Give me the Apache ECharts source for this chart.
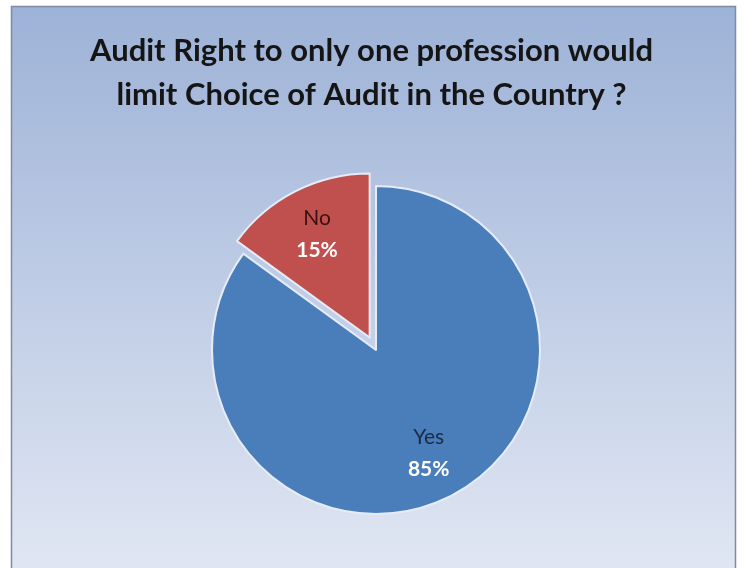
<!DOCTYPE html>
<html>
<head>
<meta charset="utf-8">
<script src="https://cdn.jsdelivr.net/npm/echarts@6/dist/echarts.min.js"></script>
<style>
html,body{margin:0;padding:0;background:#fff;}
#chart{width:743px;height:568px;}
</style>
</head>
<body>
<div id="chart"></div>
<script>
const titleLines = ['Audit Right to only one profession would', 'limit Choice of Audit in the Country ?'];
const categories = ['Yes', 'No'];
const values = [85, 15];
const sliceColors = ['#4a7ebb', '#c0504d'];

const chart = echarts.init(document.getElementById('chart'));
const nameColors = ['#1c2a44', '#3a1010'];

const pieBase = {
  type: 'pie',
  center: [376, 350],
  startAngle: 90,
  clockwise: true,
  selectedMode: 'single',
  selectedOffset: 14,
  emphasis: { disabled: true },
  labelLine: { show: false }
};

const sliceData = categories.map((c, i) => ({
  name: c, value: values[i], selected: i === 1,
  itemStyle: { color: sliceColors[i] }
}));

const labelData = categories.map((c, i) => ({
  name: c, value: values[i], selected: i === 1,
  label: {
    rich: {
      n: { fontSize: 21, color: nameColors[i], fontFamily: 'Lato', lineHeight: 32, align: 'center' },
      p: { fontSize: 21, fontWeight: 'bold', color: '#ffffff', fontFamily: 'Lato', lineHeight: 32, align: 'center' }
    }
  }
}));

chart.setOption({
  backgroundColor: '#ffffff',
  animation: false,
  graphic: [{
    type: 'rect',
    z: -10,
    shape: { x: 11.5, y: 6.5, width: 724, height: 570 },
    style: {
      fill: new echarts.graphic.LinearGradient(0, 0, 0, 1, [
        { offset: 0, color: '#9db2d7' },
        { offset: 0.45, color: '#bccae4' },
        { offset: 1, color: '#e1e7f3' }
      ]),
      stroke: '#7d8ca3',
      lineWidth: 1.5
    }
  }],
  title: {
    text: titleLines.join('\n'),
    left: 'center',
    top: 24,
    textStyle: {
      fontFamily: 'Lato',
      fontWeight: 'bold',
      fontSize: 31,
      lineHeight: 44,
      color: '#151515'
    }
  },
  series: [
    Object.assign({}, pieBase, {
      radius: 164,
      itemStyle: { borderColor: '#e6ecf7', borderWidth: 2 },
      label: { show: false },
      data: sliceData
    }),
    Object.assign({}, pieBase, {
      radius: [62, 164],
      silent: true,
      z: 3,
      itemStyle: { color: 'rgba(0,0,0,0)', borderWidth: 0 },
      label: {
        show: true,
        position: 'inner',
        formatter: p => '{n|' + p.name + '}\n{p|' + Math.round(p.percent) + '%}'
      },
      data: labelData
    })
  ]
});
</script>
</body>
</html>
